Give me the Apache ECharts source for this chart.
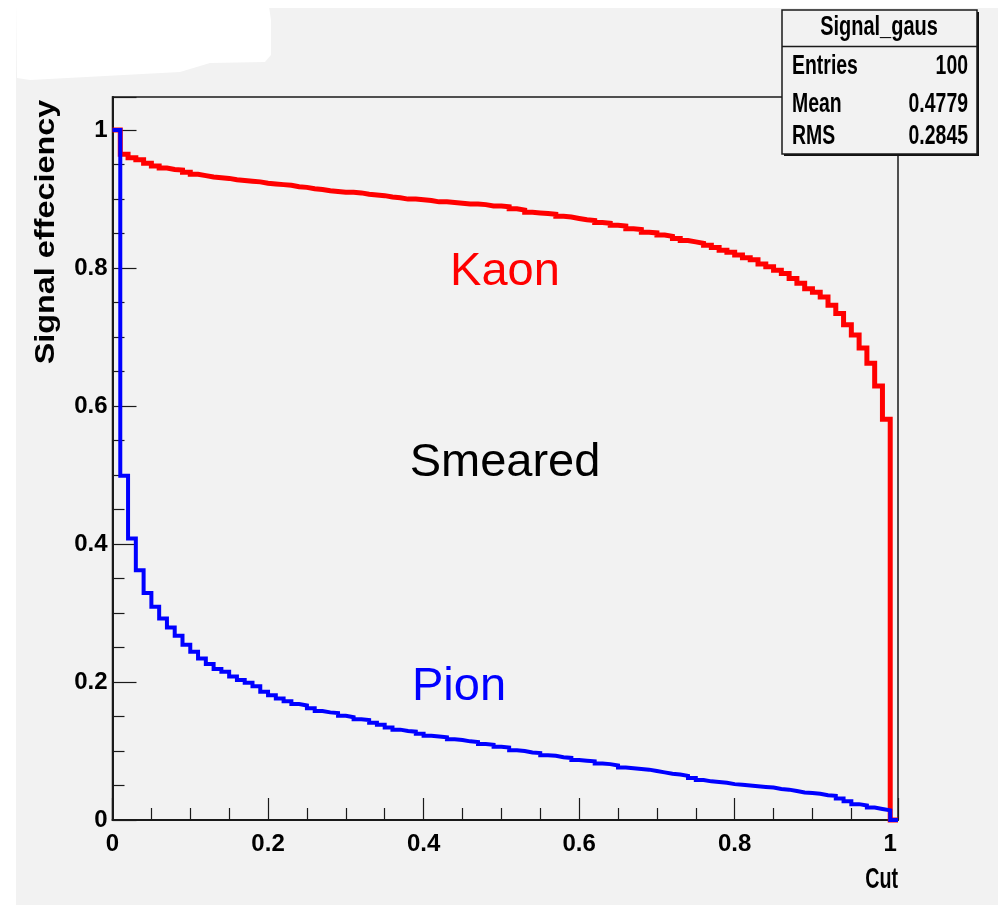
<!DOCTYPE html>
<html>
<head>
<meta charset="utf-8">
<script src="https://cdn.jsdelivr.net/npm/echarts@6/dist/echarts.min.js"></script>
<style>
  html, body { margin: 0; padding: 0; background: #ffffff; }
  #chart { width: 998px; height: 905px; }
</style>
</head>
<body>
<div id="chart"></div>
<script>
// Efficiency vs. cut value, 101 bins of width 0.01 starting at 0
const binWidth = 0.01;
const kaonEff = [
  1.000, 0.965, 0.960, 0.957, 0.952, 0.948, 0.945, 0.943, 0.942, 0.939,
  0.936, 0.934, 0.932, 0.931, 0.930, 0.928, 0.927, 0.926, 0.925, 0.923,
  0.922, 0.921, 0.920, 0.918, 0.917, 0.915, 0.914, 0.912, 0.911, 0.910,
  0.910, 0.909, 0.907, 0.906, 0.905, 0.903, 0.902, 0.900, 0.900, 0.899,
  0.898, 0.896, 0.896, 0.895, 0.894, 0.893, 0.893, 0.892, 0.890, 0.890,
  0.889, 0.886, 0.884, 0.881, 0.880, 0.879, 0.878, 0.875, 0.874, 0.872,
  0.870, 0.869, 0.866, 0.865, 0.862, 0.861, 0.857, 0.856, 0.852, 0.851,
  0.848, 0.846, 0.843, 0.840, 0.838, 0.836, 0.833, 0.830, 0.826, 0.823,
  0.819, 0.815, 0.812, 0.806, 0.802, 0.797, 0.792, 0.785, 0.778, 0.770,
  0.765, 0.758, 0.746, 0.734, 0.718, 0.703, 0.684, 0.662, 0.629, 0.581,
  0.000
];
const pionEff = [
  1.000, 0.499, 0.408, 0.362, 0.329, 0.309, 0.292, 0.279, 0.267, 0.254,
  0.244, 0.234, 0.226, 0.219, 0.215, 0.208, 0.203, 0.199, 0.194, 0.186,
  0.181, 0.176, 0.172, 0.168, 0.166, 0.162, 0.158, 0.156, 0.155, 0.151,
  0.149, 0.146, 0.145, 0.141, 0.138, 0.134, 0.131, 0.129, 0.128, 0.125,
  0.122, 0.121, 0.120, 0.117, 0.116, 0.114, 0.113, 0.110, 0.109, 0.106,
  0.105, 0.101, 0.100, 0.098, 0.097, 0.094, 0.093, 0.091, 0.090, 0.087,
  0.086, 0.085, 0.082, 0.081, 0.079, 0.076, 0.075, 0.074, 0.073, 0.071,
  0.069, 0.067, 0.066, 0.064, 0.061, 0.058, 0.056, 0.055, 0.054, 0.052,
  0.051, 0.050, 0.049, 0.048, 0.047, 0.045, 0.044, 0.042, 0.040, 0.039,
  0.038, 0.036, 0.035, 0.031, 0.027, 0.023, 0.021, 0.018, 0.016, 0.014,
  0.000
];
const xTickLabels = ['0', '0.2', '0.4', '0.6', '0.8', '1'];
const yTickLabels = ['0', '0.2', '0.4', '0.6', '0.8', '1'];
const statsTitle = 'Signal_gaus';
const statsNames = ['Entries', 'Mean', 'RMS'];
const statsValues = ['100', '0.4779', '0.2845'];

const sans = '"Liberation Sans", Arial, Helvetica, sans-serif';
const frameColor = '#1a1a1a';
const narrow = 0.72; // horizontal squeeze giving the tall, condensed lettering

// histogram outline: one point per bin low edge, closed at the upper edge of the last bin
function toSteps(values) {
  const pts = values.map((v, i) => [+(i * binWidth).toFixed(2), v]);
  pts.push([+(values.length * binWidth).toFixed(2), values[values.length - 1]]);
  return pts;
}

function tickText(labels, step) {
  return function (value) {
    const idx = Math.round(value / step);
    if (Math.abs(idx * step - value) > 1e-6) return '';
    return labels[idx] !== undefined ? labels[idx] : '';
  };
}

function boldText(text, x, y, size, align, sx, z) {
  return {
    type: 'text', z: z, x: x, y: y, scaleX: sx,
    style: { text: text, font: 'bold ' + size + 'px ' + sans, fill: '#000', align: align, verticalAlign: 'middle' }
  };
}

const chart = echarts.init(document.getElementById('chart'), null, { renderer: 'canvas' });

const statsRowY = [67, 105, 137];
const statsRows = [];
statsNames.forEach((name, i) => {
  statsRows.push(boldText(name, 792, statsRowY[i], 27, 'left', narrow, 31));
  statsRows.push(boldText(statsValues[i], 968, statsRowY[i], 27, 'right', narrow, 31));
});

chart.setOption({
  animation: false,
  backgroundColor: '#f2f2f2',
  grid: {
    left: 112.5, top: 97, width: 785.5, height: 723,
    show: true, borderColor: frameColor, borderWidth: 1.5, backgroundColor: 'transparent'
  },
  xAxis: {
    type: 'value', min: 0, max: 1.01, interval: 0.2,
    axisLine: { show: true, onZero: false, lineStyle: { color: frameColor, width: 2 } },
    axisTick: { show: true, inside: true, length: 22, lineStyle: { color: frameColor, width: 1.2 } },
    minorTick: { show: true, splitNumber: 4, length: 12, lineStyle: { color: frameColor, width: 1.2 } },
    splitLine: { show: false },
    axisLabel: {
      showMaxLabel: false, margin: 12,
      formatter: tickText(xTickLabels, 0.2),
      fontFamily: sans, fontWeight: 'bold', fontSize: 24, color: '#000'
    }
  },
  yAxis: {
    type: 'value', min: 0, max: 1.048, interval: 0.2,
    axisLine: { show: true, onZero: false, lineStyle: { color: frameColor, width: 2 } },
    axisTick: { show: true, inside: true, length: 24, lineStyle: { color: frameColor, width: 1.2 } },
    minorTick: { show: true, splitNumber: 4, length: 12, lineStyle: { color: frameColor, width: 1.2 } },
    splitLine: { show: false },
    axisLabel: {
      showMaxLabel: false, margin: 5,
      formatter: tickText(yTickLabels, 0.2),
      fontFamily: sans, fontWeight: 'bold', fontSize: 24, color: '#000'
    }
  },
  series: [
    {
      name: 'Kaon', type: 'line', step: 'end', data: toSteps(kaonEff),
      showSymbol: false, clip: false, z: 3,
      lineStyle: { color: '#ff0000', width: 5, join: 'miter', cap: 'butt' }
    },
    {
      name: 'Pion', type: 'line', step: 'end', data: toSteps(pionEff),
      showSymbol: false, clip: false, z: 4,
      lineStyle: { color: '#0000ff', width: 4, join: 'miter', cap: 'butt' }
    }
  ],
  graphic: [
    // white margins of the canvas
    { type: 'rect', z: -10, shape: { x: 0, y: 0, width: 16, height: 905 }, style: { fill: '#ffffff' } },
    { type: 'rect', z: -10, shape: { x: 0, y: 0, width: 998, height: 8 }, style: { fill: '#ffffff' } },
    {
      type: 'polygon', z: -10,
      shape: { points: [[0, 0], [268, 0], [271, 20], [271, 55], [265, 62], [210, 63], [180, 72], [30, 80], [17, 78], [16, 0]] },
      style: { fill: '#ffffff' }
    },
    // axis titles
    {
      type: 'text', z: 20, x: 47, y: 232, rotation: Math.PI / 2, scaleX: 1.2,
      style: { text: 'Signal effeciency', font: 'bold 27px ' + sans, fill: '#000', align: 'center', verticalAlign: 'middle' }
    },
    boldText('Cut', 898, 880, 29, 'right', 0.68, 20),
    // annotations
    { type: 'text', z: 20, x: 505, y: 272, style: { text: 'Kaon', font: '47px ' + sans, fill: '#ff0000', align: 'center', verticalAlign: 'middle' } },
    { type: 'text', z: 20, x: 505, y: 463, style: { text: 'Smeared', font: '47px ' + sans, fill: '#000000', align: 'center', verticalAlign: 'middle' } },
    { type: 'text', z: 20, x: 459, y: 687, style: { text: 'Pion', font: '47px ' + sans, fill: '#0000ff', align: 'center', verticalAlign: 'middle' } },
    // statistics box
    { type: 'rect', z: 29, shape: { x: 784, y: 12, width: 195, height: 144 }, style: { fill: '#111111' } },
    { type: 'rect', z: 30, shape: { x: 782, y: 10, width: 195, height: 144 }, style: { fill: '#f2f2f2', stroke: frameColor, lineWidth: 1.5 } },
    { type: 'line', z: 31, shape: { x1: 782, y1: 46.5, x2: 977, y2: 46.5 }, style: { stroke: frameColor, lineWidth: 1.5 } },
    boldText(statsTitle, 879, 28, 27, 'center', 0.74, 31)
  ].concat(statsRows)
});
</script>
</body>
</html>
